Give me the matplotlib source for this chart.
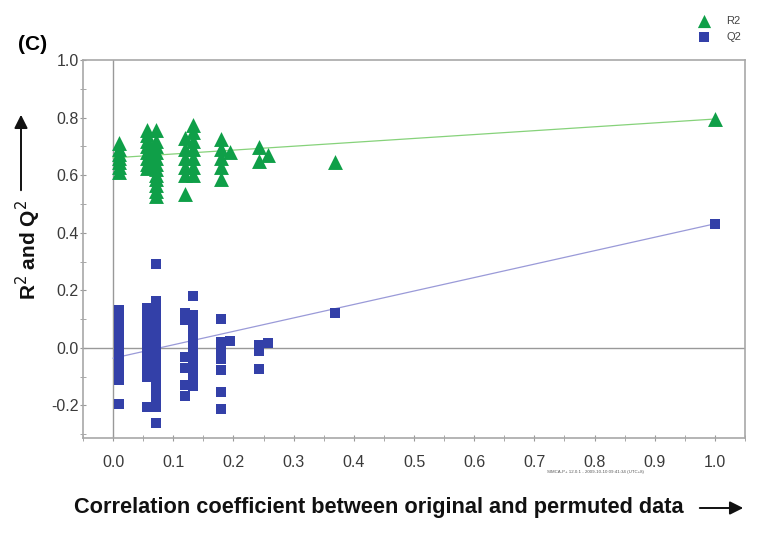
import matplotlib
matplotlib.use("Agg")
import matplotlib.pyplot as plt
from matplotlib.ticker import MultipleLocator, FixedLocator
import numpy as np

# ---- data ----
r2_x = [0.01, 0.01, 0.01, 0.01, 0.01, 0.01, 0.01,
        0.057, 0.057, 0.057, 0.057, 0.057, 0.057, 0.057, 0.057,
        0.071, 0.071, 0.071, 0.071, 0.071, 0.071, 0.071, 0.071, 0.071, 0.071, 0.071, 0.071,
        0.119, 0.119, 0.119, 0.119, 0.119, 0.119,
        0.133, 0.133, 0.133, 0.133, 0.133, 0.133, 0.133,
        0.18, 0.18, 0.18, 0.18, 0.18,
        0.194, 0.243, 0.243, 0.257, 0.368, 1.0]
r2_y = [0.61, 0.63, 0.645, 0.66, 0.675, 0.69, 0.71,
        0.625, 0.64, 0.66, 0.68, 0.70, 0.72, 0.74, 0.758,
        0.527, 0.545, 0.565, 0.585, 0.60, 0.62, 0.64, 0.66, 0.68, 0.70, 0.72, 0.758,
        0.535, 0.60, 0.63, 0.66, 0.69, 0.73,
        0.60, 0.63, 0.66, 0.69, 0.72, 0.75, 0.775,
        0.585, 0.63, 0.66, 0.69, 0.725,
        0.68, 0.65, 0.697, 0.67, 0.646, 0.795]

q2_x = [0.009] * 10 + [0.057] * 10 + [0.071] * 15 + [0.119] * 6 + [0.133] * 10 + \
       [0.18] * 7 + [0.194, 0.243, 0.243, 0.243, 0.257, 0.368, 1.0]
q2_y = [0.13, 0.10, 0.07, 0.04, 0.01, -0.02, -0.05, -0.08, -0.11, -0.196,
        0.14, 0.11, 0.08, 0.05, 0.02, -0.01, -0.04, -0.07, -0.10, -0.205,
        0.29, 0.163, 0.13, 0.10, 0.07, 0.04, 0.01, -0.02, -0.05, -0.08, -0.11, -0.146, -0.204, -0.26, -0.175,
        0.122, 0.097, -0.03, -0.07, -0.13, -0.167,
        0.179, 0.115, 0.085, 0.055, 0.025, -0.005, -0.035, -0.065, -0.10, -0.132,
        0.10, 0.02, -0.01, -0.04, -0.077, -0.153, -0.212,
        0.025, 0.01, -0.01, -0.073, 0.017, 0.12, 0.431]

r2_intercept = 0.66
q2_intercept = -0.036
r2_original = 0.795
q2_original = 0.431

x_ticks = [0.0, 0.1, 0.2, 0.3, 0.4, 0.5, 0.6, 0.7, 0.8, 0.9, 1.0]
x_ticklabels = ["0.0", "0.1", "0.2", "0.3", "0.4", "0.5", "0.6", "0.7", "0.8", "0.9", "1.0"]
y_ticks = [-0.2, 0.0, 0.2, 0.4, 0.6, 0.8, 1.0]
y_ticklabels = ["-0.2", "0.0", "0.2", "0.4", "0.6", "0.8", "1.0"]

green = "#0f9f48"
blue = "#3340a8"
W, H = 763, 533

plt.rcParams["font.family"] = ["Liberation Sans", "DejaVu Sans"]

fig = plt.figure(figsize=(W / 100, H / 100), dpi=100)
ax = fig.add_axes([83 / W, 95 / H, 662 / W, 378 / H])
ax.set_xlim(-0.05, 1.05)
ax.set_ylim(-0.313, 1.0)

for s in ax.spines.values():
    s.set_color("#a8a8a8")
    s.set_linewidth(1.2)

ax.axvline(0, color="#999999", lw=1.0, zorder=1)
ax.axhline(0, color="#999999", lw=1.0, zorder=1)

# regression lines
ax.plot([0.0, 1.0], [r2_intercept, r2_original], color="#86d27a", lw=0.9, zorder=2)
ax.plot([0.0, 1.0], [q2_intercept, q2_original], color="#9a9ad8", lw=0.9, zorder=2)

ax.scatter(q2_x, q2_y, marker="s", s=60, color=blue, linewidths=0, zorder=3, label="Q2")
ax.scatter(r2_x, r2_y, marker="^", s=115, color=green, linewidths=0, zorder=4, label="R2")

ax.xaxis.set_major_locator(FixedLocator(x_ticks))
ax.set_xticklabels(x_ticklabels)
ax.xaxis.set_minor_locator(MultipleLocator(0.05))
ax.yaxis.set_major_locator(FixedLocator(y_ticks))
ax.set_yticklabels(y_ticklabels)
ax.yaxis.set_minor_locator(MultipleLocator(0.1))
ax.tick_params(axis="both", which="both", direction="inout", length=4, color="#999999",
               labelsize=11.5, labelcolor="#3a3a3a")
ax.tick_params(axis="x", which="major", pad=10)
ax.tick_params(axis="y", which="major", pad=1)

# legend
h_r2 = ax.scatter([], [], marker="^", s=90, color=green, linewidths=0)
h_q2 = ax.scatter([], [], marker="s", s=50, color=blue, linewidths=0)
leg = fig.legend([h_r2, h_q2], ["R2", "Q2"], loc="upper left",
                 bbox_to_anchor=(692 / W, 1 - 10 / H), bbox_transform=fig.transFigure,
                 frameon=False, fontsize=8, handlelength=1.2, handletextpad=1.4,
                 labelspacing=0.6, borderpad=0)
for t in leg.get_texts():
    t.set_color("#444444")

# panel label
fig.text(18 / W, 1 - 45 / H, "(C)", fontsize=15, fontweight="bold", va="center", ha="left")

# axis titles with arrows
fig.text(379 / W, 1 - 508 / H, "Correlation coefficient between original and permuted data",
         fontsize=15.7, fontweight="bold", family=["Liberation Sans Narrow", "Liberation Sans"],
         ha="center", va="center", color="#111111")
fig.add_artist(matplotlib.patches.FancyArrowPatch((697 / W, 1 - 508 / H), (746 / W, 1 - 508 / H),
               transform=fig.transFigure, arrowstyle="-|>,head_length=8,head_width=4",
               color="#111111", lw=1.4, mutation_scale=1))
fig.text(28 / W, 1 - 250 / H, "R$^2$ and Q$^2$", rotation=90, fontsize=15, fontweight="bold",
         family=["Liberation Sans Narrow", "Liberation Sans"], ha="center", va="center",
         color="#111111")
fig.add_artist(matplotlib.patches.FancyArrowPatch((21 / W, 1 - 193 / H), (21 / W, 1 - 112 / H),
               transform=fig.transFigure, arrowstyle="-|>,head_length=8,head_width=4",
               color="#111111", lw=1.4, mutation_scale=1))

# software stamp
fig.text(547 / W, 1 - 472 / H, "SIMCA-P+ 12.0.1 - 2009-10-10 09:41:34 (UTC+8)", fontsize=3.2,
         color="#555555", ha="left", va="center")

fig.savefig("out.png", dpi=100)
